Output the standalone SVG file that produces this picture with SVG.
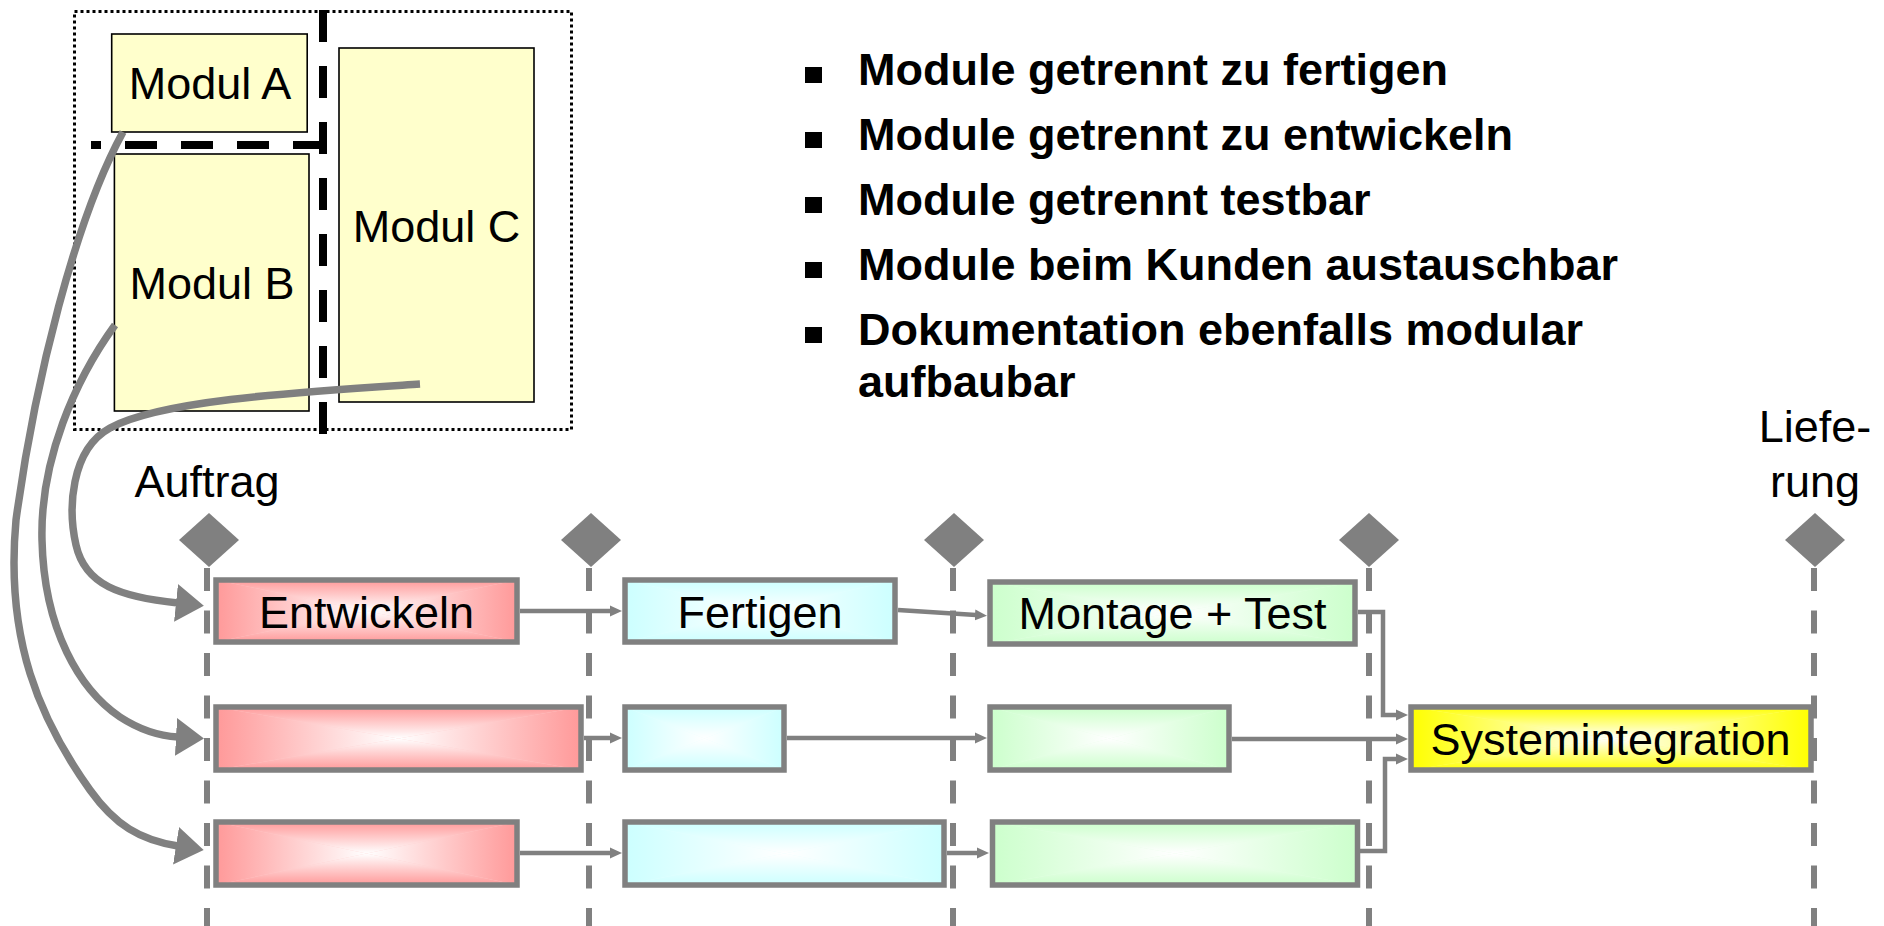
<svg xmlns="http://www.w3.org/2000/svg" width="1884" height="926" viewBox="0 0 1884 926">
<style>
  text { font-family: "Liberation Sans", Arial, sans-serif; fill: #000; }
  .lbl { font-size: 45px; text-anchor: middle; }
  .bul { font-size: 45px; font-weight: bold; }
  .mod { fill: #FFFFCC; stroke: #000; stroke-width: 1.6; }
  .task { fill: none; stroke: #808080; stroke-width: 5.5; }
  .axis { fill: none; stroke: #808080; stroke-width: 6; stroke-dasharray: 23 19.5; }
  .ms { fill: #808080; }
  .flow { fill: none; stroke: #808080; stroke-width: 4.5; marker-end: url(#tip); }
  .assign { fill: none; stroke: #808080; stroke-width: 7.5; marker-end: url(#bigTip); }
  .cut { fill: none; stroke: #000; stroke-width: 8; stroke-dasharray: 32 24; }
</style>
<defs>
  <marker id="tip" markerUnits="userSpaceOnUse" markerWidth="14" markerHeight="14" refX="1" refY="7" orient="auto">
    <path d="M0,1.5 L12,7 L0,12.5 z" fill="#808080"/>
  </marker>
  <marker id="bigTip" markerUnits="userSpaceOnUse" markerWidth="30" markerHeight="40" refX="2" refY="20" orient="auto">
    <path d="M0,1 L28,20 L0,39 z" fill="#808080"/>
  </marker>

  <!-- rectangular "edge to centre" shading, built from four triangles -->
  <linearGradient id="rL" x1="0" y1="0" x2="1" y2="0"><stop offset="0" stop-color="#FF9999"/><stop offset="1" stop-color="#FFFFFF"/></linearGradient>
  <linearGradient id="rR" x1="1" y1="0" x2="0" y2="0"><stop offset="0" stop-color="#FF9999"/><stop offset="1" stop-color="#FFFFFF"/></linearGradient>
  <linearGradient id="rT" x1="0" y1="0" x2="0" y2="1"><stop offset="0" stop-color="#FF9999"/><stop offset="1" stop-color="#FFFFFF"/></linearGradient>
  <linearGradient id="rB" x1="0" y1="1" x2="0" y2="0"><stop offset="0" stop-color="#FF9999"/><stop offset="1" stop-color="#FFFFFF"/></linearGradient>

  <linearGradient id="cL" x1="0" y1="0" x2="1" y2="0"><stop offset="0" stop-color="#CCFFFF"/><stop offset="1" stop-color="#FFFFFF"/></linearGradient>
  <linearGradient id="cR" x1="1" y1="0" x2="0" y2="0"><stop offset="0" stop-color="#CCFFFF"/><stop offset="1" stop-color="#FFFFFF"/></linearGradient>
  <linearGradient id="cT" x1="0" y1="0" x2="0" y2="1"><stop offset="0" stop-color="#CCFFFF"/><stop offset="1" stop-color="#FFFFFF"/></linearGradient>
  <linearGradient id="cB" x1="0" y1="1" x2="0" y2="0"><stop offset="0" stop-color="#CCFFFF"/><stop offset="1" stop-color="#FFFFFF"/></linearGradient>

  <linearGradient id="gL" x1="0" y1="0" x2="1" y2="0"><stop offset="0" stop-color="#CCFFCC"/><stop offset="1" stop-color="#FFFFFF"/></linearGradient>
  <linearGradient id="gR" x1="1" y1="0" x2="0" y2="0"><stop offset="0" stop-color="#CCFFCC"/><stop offset="1" stop-color="#FFFFFF"/></linearGradient>
  <linearGradient id="gT" x1="0" y1="0" x2="0" y2="1"><stop offset="0" stop-color="#CCFFCC"/><stop offset="1" stop-color="#FFFFFF"/></linearGradient>
  <linearGradient id="gB" x1="0" y1="1" x2="0" y2="0"><stop offset="0" stop-color="#CCFFCC"/><stop offset="1" stop-color="#FFFFFF"/></linearGradient>

  <linearGradient id="yL" x1="0" y1="0" x2="1" y2="0"><stop offset="0" stop-color="#FFFF00"/><stop offset="1" stop-color="#FFFFFF"/></linearGradient>
  <linearGradient id="yR" x1="1" y1="0" x2="0" y2="0"><stop offset="0" stop-color="#FFFF00"/><stop offset="1" stop-color="#FFFFFF"/></linearGradient>
  <linearGradient id="yT" x1="0" y1="0" x2="0" y2="1"><stop offset="0" stop-color="#FFFF00"/><stop offset="1" stop-color="#FFFFFF"/></linearGradient>
  <linearGradient id="yB" x1="0" y1="1" x2="0" y2="0"><stop offset="0" stop-color="#FFFF00"/><stop offset="1" stop-color="#FFFFFF"/></linearGradient>

  <symbol id="fRed" viewBox="0 0 100 100" preserveAspectRatio="none">
    <rect width="100" height="100" fill="#FFCCCC"/>
    <polygon points="0,0 50,50 0,100" fill="url(#rL)"/>
    <polygon points="100,0 50,50 100,100" fill="url(#rR)"/>
    <polygon points="0,0 100,0 50,50" fill="url(#rT)"/>
    <polygon points="0,100 100,100 50,50" fill="url(#rB)"/>
  </symbol>
  <symbol id="fCyan" viewBox="0 0 100 100" preserveAspectRatio="none">
    <rect width="100" height="100" fill="#E6FFFF"/>
    <polygon points="0,0 50,50 0,100" fill="url(#cL)"/>
    <polygon points="100,0 50,50 100,100" fill="url(#cR)"/>
    <polygon points="0,0 100,0 50,50" fill="url(#cT)"/>
    <polygon points="0,100 100,100 50,50" fill="url(#cB)"/>
  </symbol>
  <symbol id="fGreen" viewBox="0 0 100 100" preserveAspectRatio="none">
    <rect width="100" height="100" fill="#E6FFE6"/>
    <polygon points="0,0 50,50 0,100" fill="url(#gL)"/>
    <polygon points="100,0 50,50 100,100" fill="url(#gR)"/>
    <polygon points="0,0 100,0 50,50" fill="url(#gT)"/>
    <polygon points="0,100 100,100 50,50" fill="url(#gB)"/>
  </symbol>
  <symbol id="fYellow" viewBox="0 0 100 100" preserveAspectRatio="none">
    <rect width="100" height="100" fill="#FFFF80"/>
    <polygon points="0,0 50,50 0,100" fill="url(#yL)"/>
    <polygon points="100,0 50,50 100,100" fill="url(#yR)"/>
    <polygon points="0,0 100,0 50,50" fill="url(#yT)"/>
    <polygon points="0,100 100,100 50,50" fill="url(#yB)"/>
  </symbol>
</defs>

<rect width="1884" height="926" fill="#FFFFFF"/>

<!-- module breakdown -->
<g id="system">
  <rect x="74.5" y="11.5" width="497" height="418" fill="none" stroke="#000" stroke-width="3" stroke-dasharray="3 3"/>
</g>
<g id="modulA">
  <rect class="mod" x="111.7" y="34" width="195.5" height="98"/>
  <text class="lbl" x="210" y="99">Modul A</text>
</g>
<g id="modulB">
  <rect class="mod" x="114.4" y="154" width="194.6" height="257"/>
  <text class="lbl" x="212" y="299">Modul B</text>
</g>
<g id="modulC">
  <rect class="mod" x="339" y="48" width="195" height="354"/>
  <text class="lbl" x="436.5" y="242">Modul C</text>
</g>
<g id="cuts">
  <path class="cut" d="M323 10 V434"/>
  <path class="cut" d="M325 145 H91"/>
</g>

<!-- bullet list -->
<g id="notes">
  <rect x="805" y="67" width="17" height="16"/>
  <text class="bul" x="858" y="85">Module getrennt zu fertigen</text>
  <rect x="805" y="132" width="17" height="16"/>
  <text class="bul" x="858" y="150">Module getrennt zu entwickeln</text>
  <rect x="805" y="197" width="17" height="16"/>
  <text class="bul" x="858" y="215">Module getrennt testbar</text>
  <rect x="805" y="262" width="17" height="16"/>
  <text class="bul" x="858" y="280">Module beim Kunden austauschbar</text>
  <rect x="805" y="327" width="17" height="16"/>
  <text class="bul" x="858" y="345">Dokumentation ebenfalls modular</text>
  <text class="bul" x="858" y="397">aufbaubar</text>
</g>

<!-- milestones and time axis -->
<g id="milestones">
  <path class="axis" d="M207 568 V926"/>
  <path class="axis" d="M589 568 V926"/>
  <path class="axis" d="M953 568 V926"/>
  <path class="axis" d="M1369 568 V926"/>
  <path class="axis" d="M1814 568 V926"/>
  <polygon class="ms" points="209,513 239,540 209,567 179,540"/>
  <polygon class="ms" points="591,513 621,540 591,567 561,540"/>
  <polygon class="ms" points="954,513 984,540 954,567 924,540"/>
  <polygon class="ms" points="1369,513 1399,540 1369,567 1339,540"/>
  <polygon class="ms" points="1815,513 1845,540 1815,567 1785,540"/>
  <text class="lbl" x="207" y="497">Auftrag</text>
  <text class="lbl" x="1815" y="442">Liefe-</text>
  <text class="lbl" x="1815" y="497">rung</text>
</g>

<!-- tasks, row 1 -->
<g id="entwickeln1">
  <use href="#fRed" x="216" y="580" width="301" height="62"/>
  <rect class="task" x="216" y="580" width="301" height="62"/>
  <text class="lbl" x="366.5" y="628">Entwickeln</text>
</g>
<g id="fertigen1">
  <use href="#fCyan" x="625" y="580" width="270" height="62"/>
  <rect class="task" x="625" y="580" width="270" height="62"/>
  <text class="lbl" x="760" y="628">Fertigen</text>
</g>
<g id="montage1">
  <use href="#fGreen" x="990" y="582" width="365" height="62"/>
  <rect class="task" x="990" y="582" width="365" height="62"/>
  <text class="lbl" x="1172.5" y="629">Montage + Test</text>
</g>

<!-- tasks, row 2 -->
<g id="entwickeln2">
  <use href="#fRed" x="216" y="707" width="365" height="63"/>
  <rect class="task" x="216" y="707" width="365" height="63"/>
</g>
<g id="fertigen2">
  <use href="#fCyan" x="625" y="707" width="159" height="63"/>
  <rect class="task" x="625" y="707" width="159" height="63"/>
</g>
<g id="montage2">
  <use href="#fGreen" x="990" y="707" width="239" height="63"/>
  <rect class="task" x="990" y="707" width="239" height="63"/>
</g>
<g id="systemintegration">
  <use href="#fYellow" x="1411" y="707" width="400" height="63"/>
  <rect class="task" x="1411" y="707" width="400" height="63"/>
  <text class="lbl" x="1610.5" y="755">Systemintegration</text>
</g>

<!-- tasks, row 3 -->
<g id="entwickeln3">
  <use href="#fRed" x="216" y="822" width="301" height="63"/>
  <rect class="task" x="216" y="822" width="301" height="63"/>
</g>
<g id="fertigen3">
  <use href="#fCyan" x="625" y="822" width="319" height="63"/>
  <rect class="task" x="625" y="822" width="319" height="63"/>
</g>
<g id="montage3">
  <use href="#fGreen" x="992.5" y="822" width="365" height="63"/>
  <rect class="task" x="992.5" y="822" width="365" height="63"/>
</g>

<!-- connectors -->
<g id="connectors">
  <path class="flow" d="M520 611 H611"/>
  <path class="flow" d="M898 610 L976 615"/>
  <path class="flow" d="M1358 612 H1383 V715 H1397"/>
  <path class="flow" d="M584 738 H611"/>
  <path class="flow" d="M787 738 H976"/>
  <path class="flow" d="M1232 739 H1397"/>
  <path class="flow" d="M520 853 H611"/>
  <path class="flow" d="M947 853 H978"/>
  <path class="flow" d="M1360 851 H1385 V759 H1397"/>

  <path class="assign" d="M123 132 C75 220, 35 380, 16 520 C5 640, 40 720, 90 790 C115 825, 140 840, 178 846"/>
  <path class="assign" d="M115 325 C75 380, 40 460, 42 540 C44 630, 80 690, 120 717 C140 730, 160 736, 178 737"/>
  <path class="assign" d="M420 384 C300 392, 160 400, 110 428 C70 450, 68 510, 76 545 C85 585, 120 597, 178 603"/>
</g>
</svg>
